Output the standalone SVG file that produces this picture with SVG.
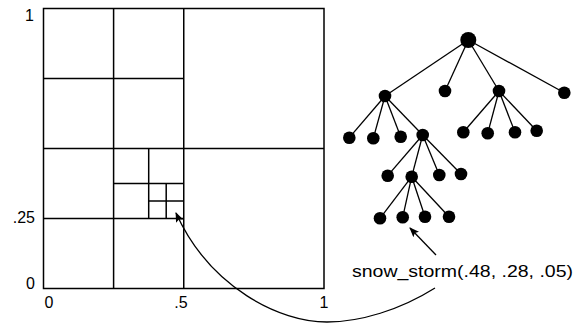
<svg xmlns="http://www.w3.org/2000/svg" width="582" height="323" viewBox="0 0 582 323">
<style>
.grid line, .grid rect { stroke:#000; stroke-width:1.5; fill:none; }
.edge { stroke:#000; stroke-width:1.3; }
.node { fill:#000; }
.lbl { font-family:"Liberation Sans", Arial, sans-serif; font-size:16px; fill:#000; }
.arrow { stroke:#000; stroke-width:1.3; fill:none; }
</style>
<defs>
<marker id="ah" viewBox="0 0 10 8" refX="9" refY="4" markerWidth="10" markerHeight="8" markerUnits="userSpaceOnUse" orient="auto">
<path d="M0,0 L10,4 L0,8 L2,4 Z" fill="#000"/>
</marker>
</defs>
<g id="grid" class="grid">
<rect x="43.5" y="8.5" width="280.5" height="280"/>
<line x1="183.75" y1="8.5" x2="183.75" y2="288.5"/>
<line x1="43.5" y1="148.5" x2="324" y2="148.5"/>
<line x1="113.6" y1="8.5" x2="113.6" y2="288.5"/>
<line x1="43.5" y1="78.5" x2="183.75" y2="78.5"/>
<line x1="43.5" y1="218.5" x2="183.75" y2="218.5"/>
<line x1="148.7" y1="148.5" x2="148.7" y2="218.5"/>
<line x1="113.6" y1="183.5" x2="183.75" y2="183.5"/>
<line x1="166.2" y1="183.5" x2="166.2" y2="218.5"/>
<line x1="148.7" y1="201" x2="183.75" y2="201"/>
</g>
<g id="axis-labels" class="lbl">
<text x="34" y="21" text-anchor="end">1</text>
<text x="35" y="223" text-anchor="end">.25</text>
<text x="35" y="289" text-anchor="end">0</text>
<text x="49" y="308" text-anchor="middle">0</text>
<text x="181" y="308" text-anchor="middle">.5</text>
<text x="324" y="308" text-anchor="middle">1</text>
</g>
<g id="tree-edges">
<line class="edge" x1="468.3" y1="40" x2="385" y2="96"/>
<line class="edge" x1="468.3" y1="40" x2="445" y2="91"/>
<line class="edge" x1="468.3" y1="40" x2="499" y2="91"/>
<line class="edge" x1="468.3" y1="40" x2="564.3" y2="92.7"/>
<line class="edge" x1="385" y1="96" x2="349.3" y2="137.7"/>
<line class="edge" x1="385" y1="96" x2="373.3" y2="138.3"/>
<line class="edge" x1="385" y1="96" x2="400.7" y2="136.7"/>
<line class="edge" x1="385" y1="96" x2="422.7" y2="135"/>
<line class="edge" x1="499" y1="91" x2="463.3" y2="132.3"/>
<line class="edge" x1="499" y1="91" x2="487.7" y2="133.3"/>
<line class="edge" x1="499" y1="91" x2="515" y2="132.3"/>
<line class="edge" x1="499" y1="91" x2="536.7" y2="130.7"/>
<line class="edge" x1="422.7" y1="135" x2="387.7" y2="175.7"/>
<line class="edge" x1="422.7" y1="135" x2="411.7" y2="176.7"/>
<line class="edge" x1="422.7" y1="135" x2="439.3" y2="175"/>
<line class="edge" x1="422.7" y1="135" x2="461" y2="174"/>
<line class="edge" x1="411.7" y1="176.7" x2="380" y2="218.3"/>
<line class="edge" x1="411.7" y1="176.7" x2="402.7" y2="217.3"/>
<line class="edge" x1="411.7" y1="176.7" x2="425" y2="216.7"/>
<line class="edge" x1="411.7" y1="176.7" x2="449" y2="216.7"/>
</g>
<g id="tree-nodes" class="node">
<circle id="root" cx="468.3" cy="40" r="8"/>
<circle cx="385" cy="96" r="6.3"/>
<circle cx="445" cy="91" r="6.3"/>
<circle cx="499" cy="91" r="6.3"/>
<circle cx="564.3" cy="92.7" r="6.3"/>
<circle cx="349.3" cy="137.7" r="6.3"/>
<circle cx="373.3" cy="138.3" r="6.3"/>
<circle cx="400.7" cy="136.7" r="6.3"/>
<circle cx="422.7" cy="135" r="6.3"/>
<circle cx="463.3" cy="132.3" r="6.3"/>
<circle cx="487.7" cy="133.3" r="6.3"/>
<circle cx="515" cy="132.3" r="6.3"/>
<circle cx="536.7" cy="130.7" r="6.3"/>
<circle cx="387.7" cy="175.7" r="6.3"/>
<circle cx="411.7" cy="176.7" r="6.3"/>
<circle cx="439.3" cy="175" r="6.3"/>
<circle cx="461" cy="174" r="6.3"/>
<circle cx="380" cy="218.3" r="6.3"/>
<circle cx="402.7" cy="217.3" r="6.3"/>
<circle cx="425" cy="216.7" r="6.3"/>
<circle cx="449" cy="216.7" r="6.3"/>
</g>
<g id="call-label">
<text class="lbl" x="352" y="277" font-size="18" textLength="221" lengthAdjust="spacingAndGlyphs">snow_storm(.48, .28, .05)</text>
</g>
<g id="connectors">
<line class="arrow" x1="436" y1="255" x2="410" y2="228" marker-end="url(#ah)"/>
<path class="arrow" d="M435,288 C400,310 360,322 327,322 C280,322 210,288 176,213" marker-end="url(#ah)"/>
</g>
</svg>
